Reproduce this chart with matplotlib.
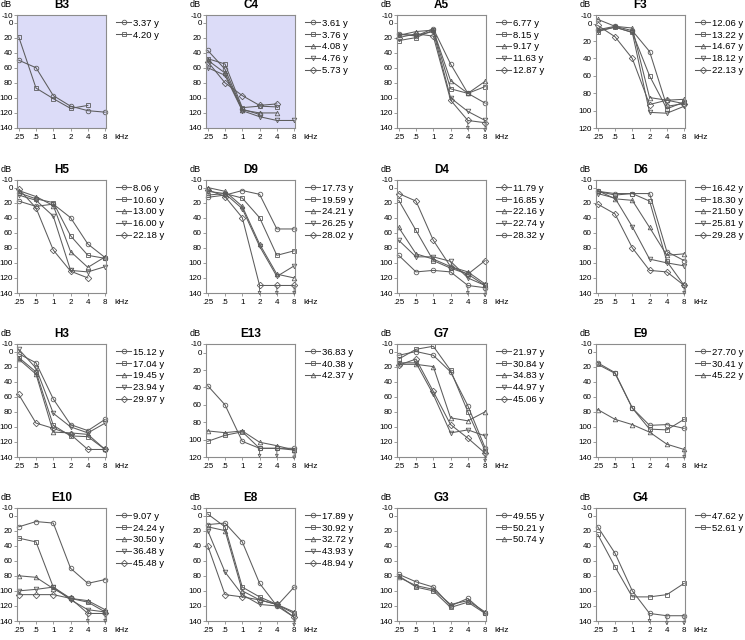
import matplotlib
matplotlib.use('Agg')
import matplotlib.pyplot as plt
import numpy as np
from matplotlib.transforms import offset_copy

plt.rcParams['font.family'] = ['Liberation Sans', 'DejaVu Sans']
plt.rcParams['axes.unicode_minus'] = False

nan = np.nan
freq_labels = ['.25', '.5', '1', '2', '4', '8']

b3_ages = ['3.37 y', '4.20 y']
b3_db = [[50, 60, 97, 111, 117, 119],
         [19, 87, 101, 114, 110, nan]]

c4_ages = ['3.61 y', '3.76 y', '4.08 y', '4.76 y', '5.73 y']
c4_db = [[37, 62, 115, 122, nan, nan],
         [48, 55, 113, 111, 112, nan],
         [50, 67, 116, 120, 120, nan],
         [60, 70, 117, 125, 130, 130],
         [52, 80, 97, 110, 108, nan]]

a5_ages = ['6.77 y', '8.15 y', '9.17 y', '11.63 y', '12.87 y']
a5_db = [[15, 18, 8, 55, 94, 107],
         [24, 20, 10, 88, 94, 85],
         [17, 12, 10, 77, 94, 78],
         [16, 17, 12, 100, 118, 130],
         [20, 15, 18, 103, 130, 133]]
a5_noresp = [(4, 4), (4, 5)]

f3_ages = ['12.06 y', '13.22 y', '14.67 y', '18.12 y', '22.13 y']
f3_db = [[7, 3, 8, 32, 95, 92],
         [9, 4, 10, 60, 98, 90],
         [-5, 3, 5, 85, 88, 87],
         [8, 4, 10, 102, 103, 95],
         [2, 15, 40, 93, 88, 92]]

h5_ages = ['8.06 y', '10.60 y', '13.00 y', '16.00 y', '22.18 y']
h5_db = [[18, 25, 22, 40, 75, 93],
         [7, 15, 20, 64, 90, 94],
         [4, 12, 24, 85, 106, 92],
         [10, 17, 38, 110, 112, 105],
         [2, 27, 83, 111, 120, nan]]

d9_ages = ['17.73 y', '19.59 y', '24.21 y', '26.25 y', '28.02 y']
d9_db = [[13, 10, 4, 9, 55, 55],
         [10, 8, 14, 40, 90, 84],
         [0, 5, 25, 75, 115, 120],
         [5, 8, 28, 78, 118, 104],
         [3, 12, 40, 130, 130, 130]]
d9_noresp = [(4, 3), (4, 4), (4, 5)]

d4_ages = ['11.79 y', '16.85 y', '22.16 y', '22.74 y', '28.32 y']
d4_db = [[8, 18, 70, 105, 115, 97],
         [17, 57, 97, 107, 115, 130],
         [53, 88, 95, 105, 112, 128],
         [70, 92, 92, 98, 120, 130],
         [90, 112, 110, 112, 130, 133]]
d4_noresp = [(4, 4), (4, 5)]

d6_ages = ['16.42 y', '18.30 y', '21.50 y', '25.81 y', '29.28 y']
d6_db = [[5, 8, 8, 8, 85, 97],
         [5, 10, 8, 18, 98, 130],
         [4, 15, 17, 53, 90, 88],
         [8, 14, 52, 95, 100, 104],
         [22, 35, 80, 110, 112, 130]]
d6_noresp = [(4, 5)]

h3_ages = ['15.12 y', '17.04 y', '19.45 y', '23.94 y', '29.97 y']
h3_db = [[3, 15, 63, 97, 105, 90],
         [8, 27, 98, 112, 113, 130],
         [10, 30, 107, 108, 110, 130],
         [-3, 22, 82, 100, 108, 95],
         [57, 95, 102, 110, 130, 130]]

e13_ages = ['36.83 y', '40.38 y', '42.37 y']
e13_db = [[38, 60, 102, 110, 110, 110],
          [102, 95, 91, 110, 110, 112],
          [90, 92, 90, 103, 107, 112]]
e13_noresp = [(1, 3), (1, 4), (1, 5)]

g7_ages = ['21.97 y', '30.84 y', '34.83 y', '44.97 y', '45.06 y']
g7_db = [[5, 0, 5, 27, 72, 128],
         [10, -3, -7, 25, 80, 132],
         [17, 17, 20, 88, 92, 80],
         [15, 15, 57, 108, 104, 112],
         [18, 10, 53, 97, 115, 135]]
g7_noresp = [(4, 5)]

e9_ages = ['27.70 y', '30.41 y', '45.22 y']
e9_db = [[15, 28, 75, 98, 97, 102],
         [17, 29, 75, 103, 104, 90],
         [77, 90, 97, 107, 123, 130]]
e9_noresp = [(2, 5)]

e10_ages = ['9.07 y', '24.24 y', '30.50 y', '36.48 y', '45.48 y']
e10_db = [[15, 8, 10, 70, 90, 85],
          [30, 35, 95, 110, 115, 128],
          [80, 82, 97, 110, 113, 125],
          [100, 98, 95, 112, 125, 128],
          [105, 105, 105, 110, 130, 130]]
e10_noresp = [(4, 4), (4, 5)]

e8_ages = ['17.89 y', '30.92 y', '32.72 y', '43.93 y', '48.94 y']
e8_db = [[12, 10, 35, 90, 120, 95],
         [-2, 15, 95, 108, 118, 130],
         [15, 20, 100, 112, 118, 128],
         [20, 75, 105, 118, 120, 135],
         [40, 105, 108, 112, 118, 135]]
e8_noresp = [(4, 5)]

g3_ages = ['49.55 y', '50.21 y', '50.74 y']
g3_db = [[78, 88, 95, 120, 110, 130],
         [80, 95, 100, 122, 115, 130],
         [82, 93, 98, 118, 113, 128]]

g4_ages = ['47.62 y', '52.61 y']
g4_db = [[15, 50, 100, 130, 133, 133],
         [25, 68, 108, 108, 105, 90]]
g4_noresp = [(0, 3), (0, 4), (0, 5)]

default_markers = ['o', 's', '^', 'v', 'D']
d4_markers = ['D', 's', '^', 'v', 'o']

panels = [
    ('B3', b3_ages, b3_db, default_markers, 140, True, []),
    ('C4', c4_ages, c4_db, default_markers, 140, True, []),
    ('A5', a5_ages, a5_db, default_markers, 140, False, a5_noresp),
    ('F3', f3_ages, f3_db, default_markers, 120, False, []),
    ('H5', h5_ages, h5_db, default_markers, 140, False, []),
    ('D9', d9_ages, d9_db, default_markers, 140, False, d9_noresp),
    ('D4', d4_ages, d4_db, d4_markers, 140, False, d4_noresp),
    ('D6', d6_ages, d6_db, default_markers, 140, False, d6_noresp),
    ('H3', h3_ages, h3_db, default_markers, 140, False, []),
    ('E13', e13_ages, e13_db, default_markers, 120, False, e13_noresp),
    ('G7', g7_ages, g7_db, default_markers, 140, False, g7_noresp),
    ('E9', e9_ages, e9_db, default_markers, 140, False, e9_noresp),
    ('E10', e10_ages, e10_db, default_markers, 140, False, e10_noresp),
    ('E8', e8_ages, e8_db, default_markers, 140, False, e8_noresp),
    ('G3', g3_ages, g3_db, default_markers, 140, False, []),
    ('G4', g4_ages, g4_db, default_markers, 140, False, g4_noresp),
]

W, H = 745, 640
fig = plt.figure(figsize=(W / 100, H / 100), dpi=100)

col_left = [17, 206, 397, 596]
row_top = [15, 180, 344, 508]
aw, ah = 89, 113

line_col = '#5c5c5c'
spine_col = '#8c8c8c'
x = np.arange(len(freq_labels))

for i, (name, ages, db, markers, ymax, shaded, noresp) in enumerate(panels):
    r, c = divmod(i, 4)
    l, t = col_left[c], row_top[r]
    ax = fig.add_axes([l / W, 1 - (t + ah) / H, aw / W, ah / H])
    if shaded:
        ax.set_facecolor('#dcdcf8')
    for k, (age, vals) in enumerate(zip(ages, db)):
        ax.plot(x, vals, color=line_col, lw=0.75, marker=markers[k], ms=3.3,
                mfc='none', mec=line_col, mew=0.6, label=age, clip_on=False)
    head_tr = offset_copy(ax.transData, fig=fig, x=0, y=-7, units='points')
    for (k, j) in noresp:
        yv = db[k][j]
        ax.annotate('', xy=(x[j], yv), xycoords=head_tr, xytext=(x[j], yv),
                    textcoords='data', annotation_clip=False,
                    arrowprops=dict(arrowstyle='-|>', color=line_col, lw=0.6,
                                    mutation_scale=5, shrinkA=0, shrinkB=0,
                                    fc='white'))
    ax.set_xlim(-0.1, 5.05)
    ax.set_ylim(ymax, -10)
    ax.set_yticks([-10] + list(range(0, ymax + 1, 20)))
    ax.set_xticks(x)
    ax.set_xticklabels(freq_labels)
    ax.tick_params(axis='both', direction='out', length=2, width=0.6,
                   color=spine_col, labelsize=5.8, pad=1)
    ax.tick_params(axis='x', pad=2.5)
    for s in ax.spines.values():
        s.set_color(spine_col)
        s.set_linewidth(0.8)
    ax.annotate('kHz', xy=(1, 0), xycoords='axes fraction', xytext=(6, -4.5),
                textcoords='offset points', ha='left', va='top', fontsize=6)
    ax.annotate('dB', xy=(0, 1), xycoords='axes fraction', xytext=(-3.5, 7.5),
                textcoords='offset points', ha='right', va='center', fontsize=6.5)
    ax.annotate(name, xy=(0.5, 1), xycoords='axes fraction', xytext=(0, 7.5),
                textcoords='offset points', ha='center', va='center',
                fontsize=8.5, fontweight='bold')
    ax.legend(loc='upper left', bbox_to_anchor=(1.07, 1.0), frameon=False,
              fontsize=6.8, handlelength=1.6, handletextpad=0.25,
              labelspacing=0.3, borderaxespad=0, borderpad=0.4)

fig.savefig('out.png', dpi=100)
